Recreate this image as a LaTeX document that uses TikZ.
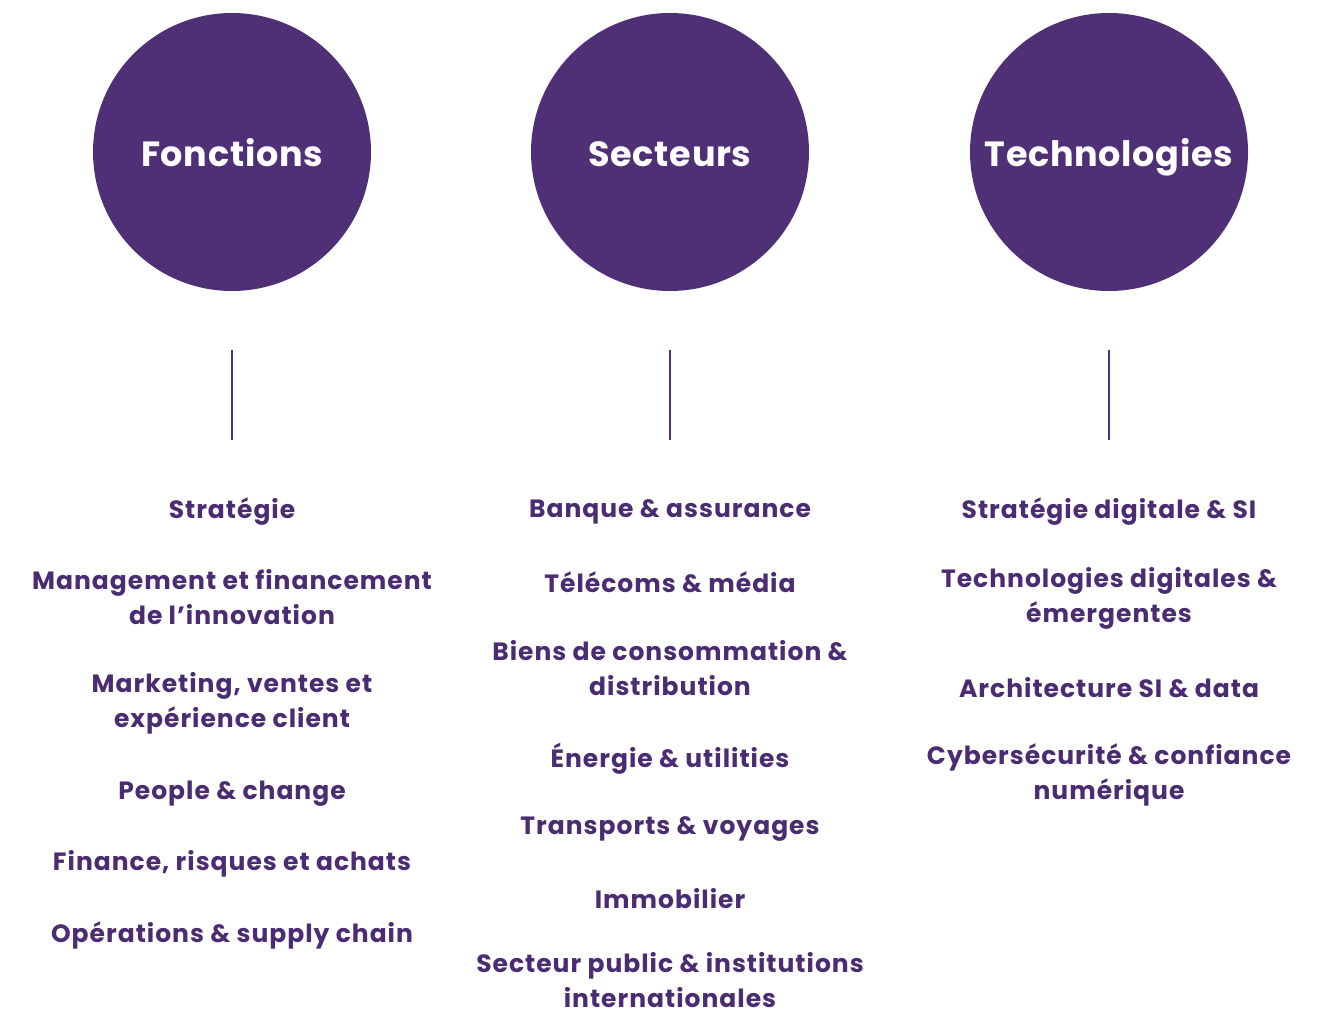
\documentclass[tikz,border=0pt]{standalone}
\usepackage{fontspec}
\setmainfont{Poppins}[BoldFont={* Bold}]
\newfontfamily\itemfont{Poppins}[BoldFont={* Bold},LetterSpace=4]
\newfontfamily\headfont{Poppins}[BoldFont={* Bold},LetterSpace=2]
\definecolor{violet}{HTML}{4F2F75}
\definecolor{txt}{HTML}{4B2B71}
\begin{document}
\begin{tikzpicture}[x=1pt,y=-1pt,
  circ/.style={circle,fill=violet,minimum size=278pt,inner sep=0pt},
  head/.style={text=white,font=\headfont\bfseries\fontsize{35}{40}\selectfont,anchor=base,inner sep=0pt},
  item/.style={text=txt,font=\itemfont\bfseries\fontsize{25}{35}\selectfont,align=center,inner sep=0pt,anchor=center},
  vline/.style={draw=violet,line width=2pt}]
\useasboundingbox (0,0) rectangle (1329,1016);
\node[circ] (c1) at (232,152) {};
\node[circ] (c2) at (670,152) {};
\node[circ] (c3) at (1109,152) {};
\node[head] (h1) at (232,167) {Fonctions};
\node[head] (h2) at (670,167) {Secteurs};
\node[head] (h3) at (1109,167) {Technologies};
\coordinate (a1) at (232,350); \coordinate (b1) at (232,440);
\coordinate (a2) at (670,350); \coordinate (b2) at (670,440);
\coordinate (a3) at (1109,350); \coordinate (b3) at (1109,440);
\draw[vline] (a1) -- (b1);
\draw[vline] (a2) -- (b2);
\draw[vline] (a3) -- (b3);
% left column
\node[item] (f1) at (232,512) {Stratégie};
\node[item] (f2) at (232,597.5) {Management et financement\\de l’innovation};
\node[item] (f3) at (232,703.5) {Marketing, ventes et\\expérience client};
\node[item] (f4) at (232,794) {People \& change};
\node[item] (f5) at (232,864) {Finance, risques et achats};
\node[item] (f6) at (232,935) {Opérations \& supply chain};
% middle column
\node[item] (s1) at (670,512) {Banque \& assurance};
\node[item] (s2) at (670,582) {Télécoms \& média};
\node[item] (s3) at (670,668.5) {Biens de consommation \&\\distribution};
\node[item] (s4) at (670,759) {Énergie \& utilities};
\node[item] (s5) at (670,829) {Transports \& voyages};
\node[item] (s6) at (670,899) {Immobilier};
\node[item] (s7) at (670,980) {Secteur public \& institutions\\internationales};
% right column
\node[item] (t1) at (1109,512) {Stratégie digitale \& SI};
\node[item] (t2) at (1109,598.5) {Technologies digitales \&\\émergentes};
\node[item] (t3) at (1109,688) {Architecture SI \& data};
\node[item] (t4) at (1109,775) {Cybersécurité \& confiance\\numérique};
\end{tikzpicture}
\end{document}
